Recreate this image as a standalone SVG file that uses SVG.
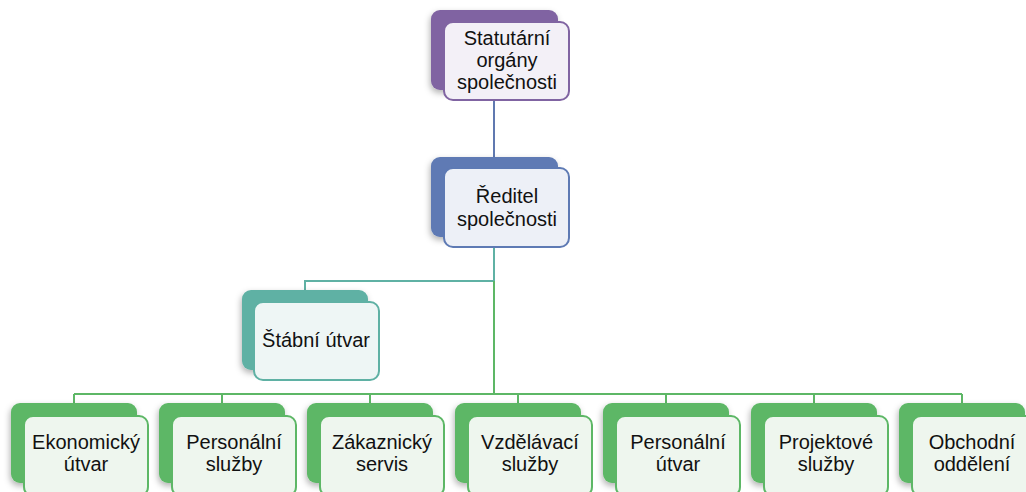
<svg xmlns="http://www.w3.org/2000/svg" width="1026" height="492" viewBox="0 0 1026 492">
  <style>
    text { font-family: "Liberation Sans", Arial, sans-serif; font-size: 20px; fill: #111; text-anchor: middle; }
    .back { filter: url(#soft); }
    .front { stroke-width: 2; }
    .purple .back { fill: #8064A2; }
    .purple .front { fill: #F3F0F7; stroke: #8064A2; }
    .blue .back { fill: #5E7AB4; }
    .blue .front { fill: #EDF0F7; stroke: #5E7AB4; }
    .teal .back { fill: #5FB1A4; }
    .teal .front { fill: #EEF6F5; stroke: #5FB1A4; }
    .green .back { fill: #5DB766; }
    .green .front { fill: #EEF6EE; stroke: #5DB766; }
    .conn { fill: none; stroke-width: 2; }
  </style>
  <defs>
    <filter id="soft" x="-20%" y="-20%" width="140%" height="150%">
      <feDropShadow dx="-1" dy="3" stdDeviation="3" flood-color="#000" flood-opacity="0.3"/>
    </filter>
  </defs>
  <rect width="1026" height="492" fill="#fff"/>

  <!-- connectors -->
  <g id="connectors">
    <path class="conn" stroke="#6079B0" d="M494 100 V168"/>
    <path class="conn" stroke="#5FB1A4" d="M494 247 V281 M495 281 H305 V290"/>
    <path class="conn" stroke="#5DB766" d="M494 281 V394 M74 394 H962 M74 394 V404 M222 394 V404 M370 394 V404 M518 394 V404 M666 394 V404 M814 394 V404 M962 394 V404"/>
  </g>

  <!-- top level -->
  <g id="statutarni" class="purple">
    <rect class="back" x="431" y="10" width="127" height="80" rx="9"/>
    <rect class="front" x="444" y="22" width="125" height="78" rx="9"/>
    <text x="507" y="45">Statutární</text>
    <text x="507" y="67">orgány</text>
    <text x="507" y="89">společnosti</text>
  </g>

  <g id="reditel" class="blue">
    <rect class="back" x="431" y="157" width="127" height="80" rx="9"/>
    <rect class="front" x="444" y="168" width="125" height="79" rx="9"/>
    <text x="507" y="203">Ředitel</text>
    <text x="507" y="226">společnosti</text>
  </g>

  <g id="stabni" class="teal">
    <rect class="back" x="242" y="290" width="126" height="80" rx="9"/>
    <rect class="front" x="254" y="302" width="125" height="78" rx="9"/>
    <text x="316" y="347">Štábní útvar</text>
  </g>

  <!-- departments -->
  <g id="ekonomicky" class="green">
    <rect class="back" x="11" y="403" width="126" height="80" rx="9"/>
    <rect class="front" x="24" y="416" width="124" height="80" rx="9"/>
    <text x="86" y="449">Ekonomický</text>
    <text x="86" y="471">útvar</text>
  </g>
  <g id="personalni-sluzby" class="green">
    <rect class="back" x="159" y="403" width="126" height="80" rx="9"/>
    <rect class="front" x="172" y="416" width="124" height="80" rx="9"/>
    <text x="234" y="449">Personální</text>
    <text x="234" y="471">služby</text>
  </g>
  <g id="zakaznicky" class="green">
    <rect class="back" x="307" y="403" width="126" height="80" rx="9"/>
    <rect class="front" x="320" y="416" width="124" height="80" rx="9"/>
    <text x="382" y="449">Zákaznický</text>
    <text x="382" y="471">servis</text>
  </g>
  <g id="vzdelavaci" class="green">
    <rect class="back" x="455" y="403" width="126" height="80" rx="9"/>
    <rect class="front" x="468" y="416" width="124" height="80" rx="9"/>
    <text x="530" y="449">Vzdělávací</text>
    <text x="530" y="471">služby</text>
  </g>
  <g id="personalni-utvar" class="green">
    <rect class="back" x="603" y="403" width="126" height="80" rx="9"/>
    <rect class="front" x="616" y="416" width="124" height="80" rx="9"/>
    <text x="678" y="449">Personální</text>
    <text x="678" y="471">útvar</text>
  </g>
  <g id="projektove" class="green">
    <rect class="back" x="751" y="403" width="126" height="80" rx="9"/>
    <rect class="front" x="764" y="416" width="124" height="80" rx="9"/>
    <text x="826" y="449">Projektové</text>
    <text x="826" y="471">služby</text>
  </g>
  <g id="obchodni" class="green">
    <rect class="back" x="899" y="403" width="126" height="80" rx="9"/>
    <rect class="front" x="912" y="416" width="124" height="80" rx="9"/>
    <text x="972" y="449">Obchodní</text>
    <text x="972" y="471">oddělení</text>
  </g>
</svg>
